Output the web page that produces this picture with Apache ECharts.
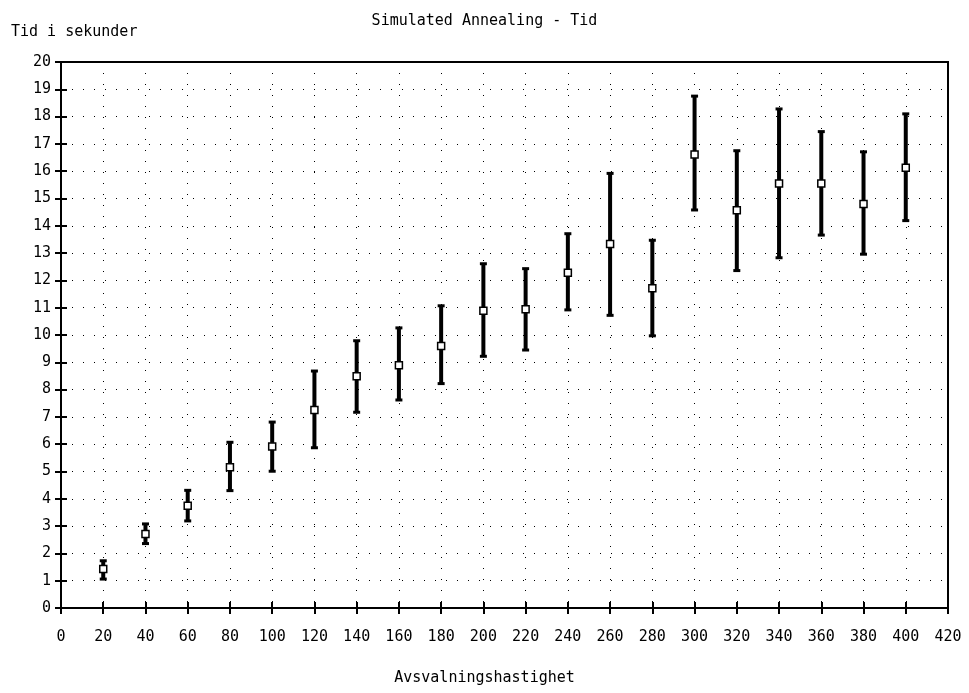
<!DOCTYPE html>
<html>
<head>
<meta charset="utf-8">
<script src="https://cdn.jsdelivr.net/npm/echarts@6/dist/echarts.min.js"></script>
<style>
html,body{margin:0;padding:0;background:#fff;}
#chart{width:969px;height:693px;}
</style>
</head>
<body>
<div id="chart"></div>
<script>
const xValues = [20, 40, 60, 80, 100, 120, 140, 160, 180, 200, 220, 240, 260, 280, 300, 320, 340, 360, 380, 400];
const meanValues = [1.43, 2.71, 3.75, 5.16, 5.92, 7.25, 8.49, 8.89, 9.60, 10.89, 10.94, 12.28, 13.33, 11.71, 16.61, 14.57, 15.55, 15.55, 14.80, 16.13];
const lowValues = [1.06, 2.36, 3.19, 4.30, 5.01, 5.87, 7.17, 7.62, 8.22, 9.22, 9.45, 10.92, 10.72, 9.97, 14.58, 12.36, 12.83, 13.66, 12.96, 14.19];
const highValues = [1.73, 3.08, 4.31, 6.07, 6.81, 8.68, 9.79, 10.26, 11.07, 12.61, 12.43, 13.71, 15.92, 13.47, 18.75, 16.75, 18.28, 17.45, 16.71, 18.10];

const titleText = 'Simulated Annealing - Tid';
const yName = 'Tid i sekunder';
const xName = 'Avsvalningshastighet';

const FONT = 'DejaVu Sans Mono';

const chart = echarts.init(document.getElementById('chart'), null, {renderer: 'canvas'});

const errData = xValues.map((x, i) => [x, lowValues[i], highValues[i]]);
const ptData = xValues.map((x, i) => [x, meanValues[i]]);

const splitStyle = {show: true, lineStyle: {color: '#000', width: 1, type: [1, 10]}};

chart.setOption({
  animation: false,
  backgroundColor: '#fff',
  title: {
    text: titleText, left: 'center', top: 9,
    textStyle: {fontFamily: FONT, fontSize: 15, fontWeight: 'normal', color: '#000'}
  },
  graphic: [
    {type: 'text', left: 11, top: 25, style: {text: yName, font: '15px "DejaVu Sans Mono"', fill: '#000'}},
    {type: 'text', left: 'center', top: 671, style: {text: xName, font: '15px "DejaVu Sans Mono"', fill: '#000'}}
  ],
  grid: {left: 61, right: 21, top: 62, bottom: 85, show: true, borderColor: '#000', borderWidth: 2, backgroundColor: 'transparent'},
  xAxis: [
    {
      type: 'value', min: 0, max: 420, interval: 20, position: 'bottom',
      axisLine: {show: true, lineStyle: {color: '#000', width: 2}},
      axisTick: {show: true, inside: true, length: 6, lineStyle: {color: '#000', width: 2}},
      axisLabel: {fontFamily: FONT, fontSize: 15, color: '#000', margin: 22},
      splitLine: splitStyle
    },
    {
      type: 'value', min: 0, max: 420, interval: 20, position: 'top',
      axisLine: {show: true, lineStyle: {color: '#000', width: 2}},
      axisTick: {show: true, inside: true, length: 6, lineStyle: {color: '#000', width: 2}},
      axisLabel: {show: false}, splitLine: {show: false}
    }
  ],
  yAxis: [
    {
      type: 'value', min: 0, max: 20, interval: 1, position: 'left',
      axisLine: {show: true, lineStyle: {color: '#000', width: 2}},
      axisTick: {show: true, inside: true, length: 6, lineStyle: {color: '#000', width: 2}},
      axisLabel: {fontFamily: FONT, fontSize: 15, color: '#000', margin: 10},
      splitLine: splitStyle
    },
    {
      type: 'value', min: 0, max: 20, interval: 1, position: 'right',
      axisLine: {show: true, lineStyle: {color: '#000', width: 2}},
      axisTick: {show: true, inside: true, length: 6, lineStyle: {color: '#000', width: 2}},
      axisLabel: {show: false}, splitLine: {show: false}
    }
  ],
  series: [
    {
      type: 'custom',
      xAxisIndex: 0, yAxisIndex: 0,
      data: errData,
      renderItem: function (params, api) {
        const x = api.value(0);
        const lo = api.coord([x, api.value(1)]);
        const hi = api.coord([x, api.value(2)]);
        const cap = 3.5;
        const bar = {stroke: '#000', lineWidth: 4};
        const capSt = {stroke: '#000', lineWidth: 3};
        return {
          type: 'group',
          children: [
            {type: 'line', shape: {x1: lo[0], y1: lo[1], x2: hi[0], y2: hi[1]}, style: bar},
            {type: 'line', shape: {x1: lo[0] - cap, y1: lo[1], x2: lo[0] + cap, y2: lo[1]}, style: capSt},
            {type: 'line', shape: {x1: hi[0] - cap, y1: hi[1], x2: hi[0] + cap, y2: hi[1]}, style: capSt}
          ]
        };
      },
      z: 2
    },
    {
      type: 'scatter',
      xAxisIndex: 0, yAxisIndex: 0,
      data: ptData,
      symbol: 'rect',
      symbolSize: 7,
      itemStyle: {color: '#fff', borderColor: '#000', borderWidth: 1.5, opacity: 1},
      z: 3
    }
  ]
});
</script>
</body>
</html>
